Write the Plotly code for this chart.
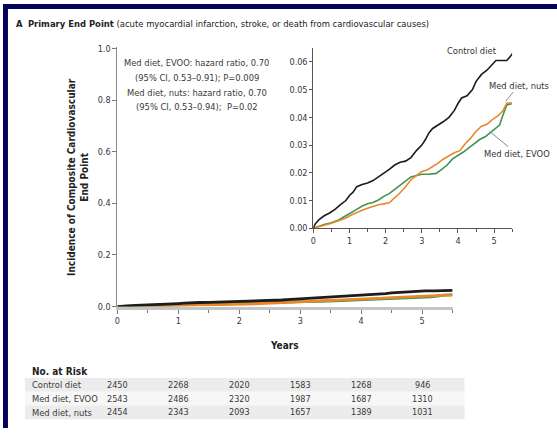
import plotly.graph_objects as go

# ---------------- data ----------------
ctrl_t = [0, 0.05, 0.15, 0.3, 0.45, 0.6, 0.75, 0.9, 1.0, 1.1, 1.2, 1.35, 1.5, 1.65, 1.8, 1.95, 2.1, 2.25, 2.4, 2.55,
          2.7, 2.85, 3.0, 3.1, 3.2, 3.3, 3.45, 3.6, 3.75, 3.9, 4.0, 4.1, 4.25, 4.4, 4.5, 4.65, 4.8, 4.95, 5.05, 5.2,
          5.35, 5.45, 5.5]
ctrl_v = [0, 0.0015, 0.003, 0.0045, 0.0055, 0.0068, 0.0085, 0.010, 0.0118, 0.013, 0.015, 0.0158, 0.0163, 0.0172,
          0.0185, 0.0198, 0.0212, 0.0228, 0.0238, 0.0242, 0.0255, 0.028, 0.030, 0.032, 0.0345, 0.036, 0.0372, 0.0385,
          0.040, 0.0425, 0.045, 0.047, 0.0478, 0.050, 0.053, 0.0555, 0.057, 0.059, 0.0605, 0.0605, 0.0605, 0.062, 0.063]

evoo_t = [0, 0.15, 0.3, 0.5, 0.7, 0.9, 1.05, 1.2, 1.35, 1.5, 1.65, 1.8, 1.95, 2.1, 2.25, 2.4, 2.55, 2.7, 2.85, 3.0,
          3.2, 3.4, 3.55, 3.7, 3.85, 4.0, 4.15, 4.3, 4.45, 4.6, 4.75, 4.9, 5.05, 5.15, 5.25, 5.35, 5.5]
evoo_v = [0, 0.0007, 0.0013, 0.002, 0.003, 0.0045, 0.0055, 0.0068, 0.008, 0.0088, 0.0093, 0.0102, 0.0115, 0.0125,
          0.014, 0.0155, 0.0172, 0.0185, 0.019, 0.0195, 0.0195, 0.0198, 0.0212, 0.0228, 0.025, 0.0262, 0.0275, 0.029,
          0.0305, 0.032, 0.033, 0.0345, 0.0362, 0.0372, 0.041, 0.0445, 0.045]

nuts_t = [0, 0.15, 0.3, 0.5, 0.7, 0.9, 1.05, 1.2, 1.35, 1.5, 1.65, 1.8, 1.95, 2.1, 2.25, 2.4, 2.55, 2.7, 2.85, 3.0,
          3.15, 3.3, 3.45, 3.6, 3.75, 3.9, 4.05, 4.2, 4.35, 4.5, 4.65, 4.8, 4.95, 5.1, 5.25, 5.35, 5.5]
nuts_v = [0, 0.0005, 0.0012, 0.0018, 0.0027, 0.0037, 0.0048, 0.0058, 0.0065, 0.0072, 0.0078, 0.0085, 0.0088,
          0.0092, 0.011, 0.0128, 0.015, 0.0175, 0.019, 0.0205, 0.021, 0.0222, 0.0235, 0.025, 0.0262, 0.0272, 0.028,
          0.0305, 0.0325, 0.035, 0.0368, 0.0375, 0.0392, 0.0405, 0.0425, 0.0452, 0.0452]

risk_years = [0, 1, 2, 3, 4, 5]
risk_groups = ["Control diet", "Med diet, EVOO", "Med diet, nuts"]
risk_ctrl = [2450, 2268, 2020, 1583, 1268, 946]
risk_evoo = [2543, 2486, 2320, 1987, 1687, 1310]
risk_nuts = [2454, 2343, 2093, 1657, 1389, 1031]

main_yticks = [0.0, 0.2, 0.4, 0.6, 0.8, 1.0]
inset_yticks = [0.00, 0.01, 0.02, 0.03, 0.04, 0.05, 0.06]
xticks = [0, 1, 2, 3, 4, 5]

# ---------------- style ----------------
W, H = 557, 433
FONT = "Liberation Sans Narrow, Arial Narrow, DejaVu Sans Condensed, sans-serif"
TICKC = "#34344a"
C_CTRL, C_EVOO, C_NUTS = "#1c1c1c", "#3c9455", "#e8872c"
NAVY = "#03035a"

def px(x):
    return x / W

def py(y):
    return 1 - y / H

fig = go.Figure()

series = [(evoo_t, evoo_v, C_EVOO), (nuts_t, nuts_v, C_NUTS), (ctrl_t, ctrl_v, C_CTRL)]
for t, v, c in series:
    fig.add_trace(go.Scatter(x=t, y=v, mode="lines", line=dict(color=c, width=2.8),
                             xaxis="x", yaxis="y", showlegend=False, hoverinfo="skip"))
for t, v, c in series:
    fig.add_trace(go.Scatter(x=t, y=v, mode="lines", line=dict(color=c, width=1.6),
                             xaxis="x2", yaxis="y2", showlegend=False, hoverinfo="skip"))

axis_common = dict(showgrid=False, zeroline=False, ticks="outside", tickfont=dict(family=FONT, size=9, color=TICKC))

fig.update_layout(
    width=W, height=H,
    margin=dict(l=0, r=0, t=0, b=0),
    paper_bgcolor="white", plot_bgcolor="rgba(0,0,0,0)",
    xaxis=dict(domain=[px(115), px(452)], range=[0, 5.5], tickvals=xticks, anchor="y",
               showline=True, linecolor="#c4c4c4", linewidth=3, ticklen=4, tickcolor="#777",
               minor=dict(dtick=0.5, ticks="outside", ticklen=3, tickcolor="#777"), **axis_common),
    yaxis=dict(domain=[py(309), py(44)], range=[0, 1.005], tickvals=main_yticks, tickformat=".1f",
               anchor="x", showline=True, linecolor="#8a8a8a", linewidth=1, ticklen=4, tickcolor="#777",
               **axis_common),
    xaxis2=dict(domain=[px(312), px(512)], range=[0, 5.5], tickvals=xticks, anchor="y2",
                showline=True, linecolor="#555", linewidth=1, ticklen=4, tickcolor="#555",
                minor=dict(dtick=0.5, ticks="outside", ticklen=3, tickcolor="#555"), **axis_common),
    yaxis2=dict(domain=[py(229), py(45)], range=[0, 0.065], tickvals=inset_yticks, tickformat=".2f",
                anchor="x2", showline=True, linecolor="#555", linewidth=1, ticklen=3, tickcolor="#555",
                **axis_common),
)

shapes = [
    dict(type="rect", xref="paper", yref="paper", x0=0, x1=1, y0=py(5), y1=1, fillcolor=NAVY, line_width=0, layer="above"),
    dict(type="rect", xref="paper", yref="paper", x0=0, x1=px(5), y0=0, y1=1, fillcolor=NAVY, line_width=0, layer="above"),
]
# at-risk table row backgrounds
row_y = [389, 403, 417]
row_fill = ["#ececec", "#f7f7f7", "#ececec"]
for yy, fc in zip(row_y, row_fill):
    shapes.append(dict(type="rect", xref="paper", yref="paper", x0=px(22), x1=px(464),
                       y0=py(yy + 7), y1=py(yy - 7), fillcolor=fc, line_width=0, layer="below"))
fig.update_layout(shapes=shapes)

ann = []
def A(**kw):
    kw.setdefault("xanchor", "center")
    kw.setdefault("yanchor", "middle")
    kw.setdefault("showarrow", False)
    ann.append(kw)

A(xref="paper", yref="paper", x=px(11), y=py(20), xanchor="left",
  text="<b>A</b>  <b>Primary End Point</b> (acute myocardial infarction, stroke, or death from cardiovascular causes)",
  font=dict(family=FONT, size=9.4, color="#222"))
A(xref="paper", yref="paper", x=px(76), y=py(177), textangle=-90,
  text="<b>Incidence of Composite Cardiovascular<br>End Point</b>",
  font=dict(family=FONT, size=10, color="#222"))
A(xref="paper", yref="paper", x=px(283), y=py(349), text="<b>Years</b>",
  font=dict(family=FONT, size=10, color="#222"))
hr_lines = ["Med diet, EVOO: hazard ratio, 0.70", "(95% CI, 0.53–0.91); P=0.009",
            "Med diet, nuts: hazard ratio, 0.70", "(95% CI, 0.53–0.94);  P=0.02"]
for i, s in enumerate(hr_lines):
    A(xref="paper", yref="paper", x=px(195), y=py(60 + i * 15), text=s,
      font=dict(family=FONT, size=9.3, color="#3a3a3a"))
A(xref="x2", yref="y2", x=5.45, y=0.062, xshift=-38, yshift=6, text="Control diet",
  font=dict(family=FONT, size=9.3, color="#333"))
A(xref="x2", yref="y2", x=5.3, y=0.0455, ax=14, ay=-17, showarrow=True, arrowhead=0,
  arrowwidth=1, arrowcolor="#888", text="Med diet, nuts", standoff=1,
  font=dict(family=FONT, size=9.3, color="#333"))
A(xref="x2", yref="y2", x=4.85, y=0.0352, ax=28, ay=23, showarrow=True, arrowhead=0,
  arrowwidth=1, arrowcolor="#888", text="Med diet, EVOO", standoff=1,
  font=dict(family=FONT, size=9.3, color="#333"))
# at-risk table
A(xref="paper", yref="paper", x=px(27), y=py(375), xanchor="left",
  text="<b>No. at Risk</b>", font=dict(family=FONT, size=10, color="#222"))
for yy, name, vals in zip(row_y, risk_groups, [risk_ctrl, risk_evoo, risk_nuts]):
    A(xref="paper", yref="paper", x=px(27), y=py(yy), xanchor="left",
      text=name, font=dict(family=FONT, size=9.3, color="#3a3a3a"))
    for yr, v in zip(risk_years, vals):
        A(xref="x", yref="paper", x=yr, y=py(yy), text=str(v),
          font=dict(family=FONT, size=9, color="#3a3a3a"))
fig.update_layout(annotations=ann)

fig.write_html("out.html")
